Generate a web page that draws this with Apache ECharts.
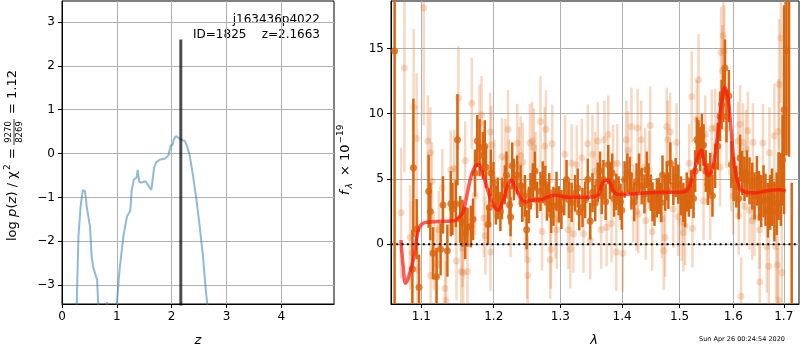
<!DOCTYPE html>
<html>
<head>
<meta charset="utf-8">
<script src="https://cdn.jsdelivr.net/npm/echarts@6.0.0/dist/echarts.min.js"></script>
<style>html,body{margin:0;padding:0;background:#fff}#main{width:800px;height:350px}</style>
</head>
<body>
<div id="main"></div>
<script>
// p(z) curve
const pzZ = [0.25,0.27,0.30,0.34,0.38,0.40,0.42,0.45,0.51,0.54,0.57,0.64,0.66,0.68,0.80,0.82,0.84,0.99,1.00,1.05,
  1.12,1.185,1.245,1.27,1.31,1.36,1.38,1.41,1.45,1.52,1.57,1.63,1.68,1.72,1.78,1.88,1.94,1.98,2.02,2.04,
  2.08,2.12,2.18,2.24,2.28,2.33,2.39,2.45,2.51,2.57,2.62,2.65,2.68];
const pzLog = [-4.2,-3.35,-1.88,-1.2,-0.83,-0.79,-0.86,-1.2,-1.66,-2.34,-2.6,-2.88,-3.43,-4.0,-3.6,-3.39,-3.6,-4.0,-3.43,-2.64,
  -1.88,-1.43,-1.31,-0.85,-0.59,-0.55,-0.37,-0.65,-0.66,-0.63,-0.72,-0.83,-0.32,-0.2,-0.14,-0.11,-0.04,0.17,0.21,0.33,
  0.40,0.36,0.31,0.29,0.17,-0.05,-0.51,-1.04,-1.65,-2.33,-3.09,-3.43,-4.2];
const zBest = 2.1663;
const zTicks = [0,1,2,3,4];
const pzTicks = [-3,-2,-1,0,1,2,3];

// spectrum, binned (dark) points
const darkWave = [1.0653,1.0883,1.0896,1.0939,1.0970,1.1097,1.1120,1.1156,1.1203,1.1259,1.1290,1.1350,1.1397,1.1419,1.1466,1.1488,1.1526,
  1.1558,1.1595,1.1627,1.1674,1.1705,1.1733,1.1765,1.1798,1.1844,1.1871,1.1889,1.1917,1.1936,1.1959,1.1996,1.2030,1.2060,1.2096,1.2119,1.2160,1.2185,1.2230,1.2245,1.2269,1.2294,1.2343,1.2394,1.2418,1.2458,1.2484,1.2518,
  1.2543,1.2578,1.2608,1.2642,1.2693,1.2727,1.2767,1.2791,1.2827,1.2857,1.2891,1.2940,1.2976,1.3016,1.3060,1.3097,1.3135,1.3177,1.3232,1.3274,1.3297,1.3350,1.3393,1.3435,1.3474,1.3511,1.3555,1.3597,
  1.3635,1.3661,1.3689,1.3726,1.3769,1.3797,1.3834,1.3866,1.3903,1.3942,1.3974,1.3995,1.4042,1.4088,1.4130,1.4158,1.4205,1.4246,1.4288,1.4333,1.4381,1.4421,1.4451,1.4491,1.4521,1.4556,1.4596,1.4638,1.4673,1.4696,1.4743,1.4771,1.4800,
  1.4835,1.4889,1.4930,1.4977,1.5026,1.5069,1.5100,1.5130,1.5170,1.5211,1.5254,1.5285,1.5315,1.5346,1.5378,1.5407,1.5439,1.5481,1.5518,1.5563,1.5605,1.5655,1.5704,1.5748,1.5778,1.5809,1.5841,1.5870,1.5915,1.5963,1.6008,1.6059,1.6106,
  1.6132,1.6171,1.6217,1.6264,1.6315,1.6369,1.6414,1.6461,1.6501,1.6546,1.6592,1.6631,1.6679,1.6724,1.6763,1.6809,1.6856,1.6895,1.6941,1.6974,1.7006,1.7055,1.7108,1.7163];
const darkFlux = [14.8,-1.9,5.85,1.15,-3.3,4.05,2.5,-0.7,-2.5,-0.4,3.0,-0.5,3.1,2.7,3.1,8.0,1.9,
  1.6,0.85,1.3,1.35,1.9,5.45,7.9,7.4,6.8,7.5,5.9,1.5,2.8,5.45,4.7,3.0,3.5,2.5,3.5,4.55,5.3,3.0,2.1,6.0,4.95,5.3,4.45,3.2,3.7,1.1,3.0,
  4.05,4.7,5.6,3.4,4.05,4.75,4.6,3.2,3.95,2.25,2.9,4.05,3.05,2.65,3.6,4.95,3.4,3.2,3.9,4.3,2.45,2.8,3.4,4.95,1.75,3.95,3.15,4.75,
  5.6,3.7,4.95,3.25,6.1,4.85,5.45,3.5,4.0,3.7,3.25,2.6,4.95,5.45,5.3,4.05,3.25,4.8,5.45,4.45,3.85,5.7,4.7,3.95,3.25,2.8,3.55,3.7,3.2,5.3,3.95,4.85,4.1,
  6.2,4.5,5.1,4.6,3.7,3.2,2.8,4.0,3.6,4.2,3.5,5.6,8.0,7.8,7.3,8.3,7.6,5.6,4.6,5.4,3.7,6.0,7.5,9.8,10.7,11.35,13.5,9.8,11.35,6.1,5.0,4.4,3.5,
  6.6,5.45,5.0,5.4,4.85,4.45,3.7,4.85,3.7,3.3,4.05,3.4,2.6,3.2,3.6,2.5,3.1,4.45,4.2,6.45,10.3,14.8,22,-6];
const darkErr = [25,3.0,5.3,2.3,2.5,2.8,2.2,2.0,2.2,2.0,2.2,2.0,2.5,2.0,1.8,3.5,1.8,
  1.8,2.0,1.5,1.6,1.6,1.8,2.0,2.2,1.8,2.0,1.6,1.5,1.5,1.8,1.6,1.5,1.6,1.5,1.6,1.5,1.8,1.5,1.5,1.8,1.6,1.5,1.6,1.5,1.6,1.5,1.4,
  1.4,1.5,1.5,1.4,1.5,1.6,1.4,1.4,1.5,1.4,1.5,1.5,1.4,1.5,1.4,1.5,1.4,1.5,1.4,1.5,1.4,1.5,1.4,1.6,1.4,1.5,1.4,1.5,
  1.5,1.4,1.5,1.4,1.5,1.4,1.5,1.4,1.4,1.5,1.4,1.5,1.4,1.5,1.4,1.4,1.5,1.4,1.5,1.4,1.5,1.4,1.5,1.4,1.5,1.4,1.5,1.4,1.5,1.5,1.4,1.5,1.4,
  1.6,1.5,1.5,1.5,1.5,1.5,1.5,1.5,1.5,1.5,1.5,1.6,1.7,1.7,1.7,1.7,1.6,1.6,1.6,1.6,1.6,1.7,1.8,1.9,1.9,2.0,2.2,2.0,2.0,1.8,1.7,1.6,1.6,
  1.8,1.7,1.7,1.8,1.8,1.8,1.8,1.9,1.9,2.0,2.0,2.0,2.1,2.1,2.2,2.3,2.4,2.6,2.8,3.5,8,8,15.3,10.7];

// spectrum, individual (light) points
const lightWave = [1.0736,1.0779,1.0853,1.0879,1.0900,1.0939,1.0948,1.1032,1.1087,1.1120,1.1124,1.1142,1.1166,1.1207,1.1235,1.1281,1.1318,1.1332,1.1397,1.1443,1.1466,1.1474,1.1502,1.1539,
  1.1558,1.1567,1.1595,1.1627,1.1688,1.1733,1.1798,1.1826,1.1858,1.1881,1.1950,1.1954,1.1964,1.2010,1.2119,1.2170,1.2209,1.2219,1.2245,1.2343,1.2368,1.2394,1.2424,1.2469,1.2493,1.2499,1.2533,
  1.2568,1.2593,1.2618,1.2693,1.2717,1.2757,1.2776,1.2842,1.2854,1.2873,1.2924,1.2943,1.3071,1.3124,1.3156,1.3177,1.3205,1.3258,1.3339,1.3366,1.3435,1.3474,1.3511,1.3555,1.3597,
  1.3652,1.3705,1.3742,1.3769,1.3823,1.3850,1.3903,1.3919,1.4012,1.4070,1.4100,1.4158,1.4188,1.4246,1.4263,1.4275,1.4323,1.4393,1.4404,1.4463,1.4481,1.4516,1.4684,1.4719,1.4743,1.4771,1.4789,
  1.4831,1.4889,1.4947,1.4977,1.5037,1.5069,1.5100,1.5174,1.5222,1.5235,1.5315,1.5346,1.5439,1.5470,1.5563,1.5592,1.5655,1.5748,1.5766,1.5791,1.5809,1.5828,1.5870,1.5963,1.5995,1.6092,1.6106,
  1.6132,1.6151,1.6191,1.6217,1.6250,1.6283,1.6315,1.6369,1.6383,1.6414,1.6513,1.6517,1.6580,1.6659,1.6698,1.6710,1.6809,1.6843,1.6872,1.6888,1.6895,1.6907,1.6941,1.6961,1.7039];
const lightFlux = [2.4,13.5,0.5,-0.7,10.5,8.1,-1.9,18.1,7.9,7.0,-2.4,4.8,-0.5,-1.5,1.1,4.3,-3.4,-4.3,5.7,5.8,3.0,-1.3,11.2,-2.1,
  -0.3,-2.2,6.4,-2.1,10.8,3.7,9.25,9.9,2.0,0.65,8.6,-0.6,7.6,5.0,6.7,6.6,8.8,5.0,2.0,7.75,6.0,6.8,6.3,2.0,-1.2,-2.4,7.75,
  7.9,7.4,5.6,9.4,0.97,7.5,8.8,-1.2,-0.4,7.7,1.9,1.1,6.9,1.1,-0.4,6.2,0.8,6.1,6.6,0.8,7.7,0.3,6.9,5.6,7.9,
  1.1,8.0,1.3,8.4,1.6,6.15,-0.6,6.2,-0.7,8.0,7.2,9.0,3.1,2.5,8.9,2.3,8.0,5.9,1.8,5.7,9.1,0.95,1.9,-0.5,0.5,9.0,8.0,
  8.6,2.7,7.8,2.1,1.7,0.9,1.4,6.2,11.3,1.2,9.6,12.6,3.3,8.4,3.3,8.85,8.9,5.9,14.7,13.3,16.0,14.8,8.85,5.5,3.7,7.9,2.2,
  9.2,-4.0,7.8,2.9,7.3,8.7,2.6,1.8,7.8,2.1,1.1,-2.9,7.75,-0.2,-1.7,7.0,8.3,-0.2,-1.6,-4.3,8.65,12.25,15.8,-2.2,13.0];
const lightErr = [5,8,4,4,6,5,4,9,3.5,3.5,3,3,3,3,3,3,3,3,3,3,3,3,4,3,
  3,3,3,3,3.5,3,3,3,3,3,3,3,3,3,3,3,3,3,3,3,3,3,3,3,3,3,3,
  3,3,3,3.5,3,3,3,3,3,3,3,3,3,3,3,3,3,3,3,3,3,3,3,3,3,
  3,3,3,3,3,3,3,3,3,3,3,3,3,3,3,3,3,3,3,3,3,3,3,3,3,3,3,
  3,3,3,3,3,3,3,3,3.5,3,3,3.5,3,3,3,3,3,3,3.5,3.5,3.5,3.5,3,3,3,3,3,
  3,3,3,3,3,3,3,3,3,3,3,3,3,3.5,3.5,3.5,4,4,4,4,4,5,5,5,6];

// best-fit model
const modelWave = [1.0735,1.0760,1.0795,1.0830,1.0895,1.0960,1.1026,1.1137,1.1300,1.1450,1.1499,1.1560,1.1592,1.1640,1.1684,1.1740,1.1788,1.1830,1.1873,1.1920,
  1.1967,1.2015,1.2064,1.2110,1.2162,1.2210,1.2259,1.2310,1.2357,1.2410,1.2456,1.2536,1.2702,1.2794,1.2926,1.3121,1.3439,1.3600,1.3640,1.3683,
  1.3765,1.3847,1.3930,1.4155,1.4441,1.4827,1.5060,1.5150,1.5241,1.5333,1.5394,1.5457,1.5531,1.5611,1.5705,1.5780,1.5837,1.5900,1.5960,1.6010,
  1.6060,1.6110,1.6150,1.6307,1.6439,1.6637,1.6905,1.7041];
const modelFlux = [0.3,-1.5,-3.0,-2.6,-1.2,1.07,1.6,1.7,1.75,1.8,2.0,2.4,3.0,4.3,5.3,6.0,6.1,5.6,4.9,4.0,
  3.3,2.8,2.6,3.0,3.8,4.6,4.9,4.4,3.9,3.4,3.24,3.37,3.4,3.6,3.75,3.6,3.6,3.75,4.2,4.77,
  4.9,4.13,3.8,3.85,3.93,3.98,4.0,4.18,5.15,6.68,7.19,6.17,5.28,5.9,8.47,11.0,12.0,11.2,8.7,6.5,
  5.2,4.5,4.15,3.93,3.93,4.08,4.16,4.08];
const lamTicks = [1.1,1.2,1.3,1.4,1.5,1.6,1.7];
const fluxTicks = [0,5,10,15];
const lamMin = 1.0607, lamMax = 1.7314;

const FONT = 'DejaVu Sans';
const ln = Math.log;
const minus = v => (v < 0 ? '\u2212' + Math.abs(v) : String(v));
const zip = (xs, ys) => xs.map((x, i) => [x, ys[i]]);
// wavelength axis is logarithmic: place points at ln(lambda)
const specData = (w, f, e) => w.map((x, i) => [ln(x), f[i], e[i]]);

function errorBar(color, width) {
  return function (params, api) {
    const x = api.value(0), y = api.value(1), e = api.value(2);
    const a = api.coord([x, y - e]);
    const b = api.coord([x, y + e]);
    return {
      type: 'line',
      shape: { x1: a[0], y1: a[1], x2: b[0], y2: b[1] },
      style: { stroke: color, lineWidth: width }
    };
  };
}

function axisBase(ticks, fmt) {
  return {
    type: 'value',
    axisLine: { onZero: false, lineStyle: { color: '#000', width: 1 } },
    axisTick: { inside: false, length: 4, customValues: ticks, lineStyle: { color: '#000' } },
    axisLabel: { customValues: ticks, formatter: fmt, color: '#000', fontFamily: FONT, fontSize: 12, margin: 7 },
    splitLine: { show: true, lineStyle: { color: '#b0b0b0', width: 1 } }
  };
}

// small helper for the hand-set mathtext labels
function txt(s, x, y, size, italic) {
  return { type: 'text', x: x, y: y, style: { text: s, fontFamily: FONT, fontStyle: italic ? 'italic' : 'normal', fontSize: size, fill: '#000', textAlign: 'left', textVerticalAlign: 'middle' } };
}

const chart = echarts.init(document.getElementById('main'));
const DARK = '#d9650f';

chart.setOption({
  animation: false,
  backgroundColor: '#fff',
  grid: [
    { left: 62, top: 1, width: 272, height: 303, show: true, borderColor: '#000', borderWidth: 1 },
    { left: 391, top: 1, width: 408, height: 303, show: true, borderColor: '#000', borderWidth: 1 }
  ],
  xAxis: [
    Object.assign(axisBase(zTicks, v => minus(v)), { gridIndex: 0, min: 0, max: 4.96 }),
    Object.assign(axisBase(lamTicks.map(ln), v => Math.exp(v).toFixed(1)), { gridIndex: 1, min: ln(lamMin), max: ln(lamMax) })
  ],
  yAxis: [
    Object.assign(axisBase(pzTicks, v => minus(v)), { gridIndex: 0, min: -3.43, max: 3.48 }),
    Object.assign(axisBase(fluxTicks, v => minus(v)), { gridIndex: 1, min: -4.59, max: 18.64 })
  ],
  series: [
    {
      type: 'line', xAxisIndex: 0, yAxisIndex: 0, data: zip(pzZ, pzLog),
      showSymbol: false, clip: true,
      lineStyle: { color: 'rgba(31,119,180,0.5)', width: 2 }
    },
    {
      type: 'line', xAxisIndex: 0, yAxisIndex: 0, data: [[zBest, -3.6], [zBest, 2.6]],
      showSymbol: false, clip: true,
      lineStyle: { color: 'rgba(0,0,0,0.7)', width: 3 }
    },
    {
      type: 'custom', xAxisIndex: 1, yAxisIndex: 1, clip: true,
      data: specData(lightWave, lightFlux, lightErr),
      renderItem: errorBar('rgba(225,115,35,0.28)', 2.5)
    },
    {
      type: 'scatter', xAxisIndex: 1, yAxisIndex: 1, clip: true,
      data: specData(lightWave, lightFlux, lightErr),
      symbolSize: 7, itemStyle: { color: 'rgba(217,110,30,0.3)' }
    },
    {
      type: 'custom', xAxisIndex: 1, yAxisIndex: 1, clip: true,
      data: specData(darkWave, darkFlux, darkErr),
      renderItem: errorBar(DARK, 2.5)
    },
    {
      type: 'scatter', xAxisIndex: 1, yAxisIndex: 1, clip: true,
      data: specData(darkWave, darkFlux, darkErr),
      symbolSize: 7, itemStyle: { color: DARK }
    },
    {
      type: 'line', xAxisIndex: 1, yAxisIndex: 1, data: zip(modelWave.map(ln), modelFlux),
      showSymbol: false, smooth: 0.4, clip: true,
      lineStyle: { color: 'rgba(255,20,10,0.7)', width: 3.5 }
    },
    {
      type: 'line', xAxisIndex: 1, yAxisIndex: 1, data: [[ln(lamMin), 0], [ln(lamMax), 0]],
      showSymbol: false,
      lineStyle: { color: '#000', width: 2, type: [2, 3.3] }
    }
  ],
  graphic: [
    { type: 'text', x: 320, y: 20, style: { text: 'j163436p4022', fontFamily: FONT, fontSize: 12, fill: '#000', textAlign: 'right', textVerticalAlign: 'middle' } },
    { type: 'text', x: 320, y: 35, style: { text: 'ID=1825    z=2.1663', fontFamily: FONT, fontSize: 12, fill: '#000', textAlign: 'right', textVerticalAlign: 'middle' } },
    { type: 'text', x: 198, y: 341, style: { text: 'z', fontFamily: FONT, fontStyle: 'italic', fontSize: 13, fill: '#000', textAlign: 'center', textVerticalAlign: 'middle' } },
    { type: 'text', x: 594, y: 341, style: { text: 'λ', fontFamily: FONT, fontStyle: 'italic', fontSize: 13, fill: '#000', textAlign: 'center', textVerticalAlign: 'middle' } },
    { type: 'text', x: 742, y: 339, style: { text: 'Sun Apr 26 00:24:54 2020', fontFamily: FONT, fontSize: 6.5, fill: '#000', textAlign: 'center', textVerticalAlign: 'middle' } },
    {
      // log p(z) / chi^2 = 9270/8269 = 1.12, read bottom to top
      type: 'group', x: 13, y: 241, rotation: Math.PI / 2,
      children: [
        txt('log', 0, 0, 13),
        txt('p', 24, 0, 13, true),
        txt('(', 32.5, 0, 13),
        txt('z', 37.5, 0, 13, true),
        txt(') / χ', 44.5, 0, 13),
        txt('2', 71, -5, 9),
        txt('=', 82, 0, 13),
        { type: 'text', x: 109, y: -4.5, style: { text: '9270', fontFamily: FONT, fontSize: 8.5, fill: '#000', textAlign: 'center', textVerticalAlign: 'middle' } },
        { type: 'line', shape: { x1: 96, y1: 1, x2: 122, y2: 1 }, style: { stroke: '#000', lineWidth: 0.8 } },
        { type: 'text', x: 109, y: 6.5, style: { text: '8269', fontFamily: FONT, fontSize: 8.5, fill: '#000', textAlign: 'center', textVerticalAlign: 'middle' } },
        txt('= 1.12', 127, 0, 13)
      ]
    },
    {
      // f_lambda x 10^-19
      type: 'group', x: 346, y: 197, rotation: Math.PI / 2,
      children: [
        txt('f', 2, 0, 13, true),
        txt('λ', 8.5, 4, 9, true),
        txt('× 10', 21, 0, 13),
        txt('\u221219', 53.5, -5, 9)
      ]
    }
  ]
});
</script>
</body>
</html>
